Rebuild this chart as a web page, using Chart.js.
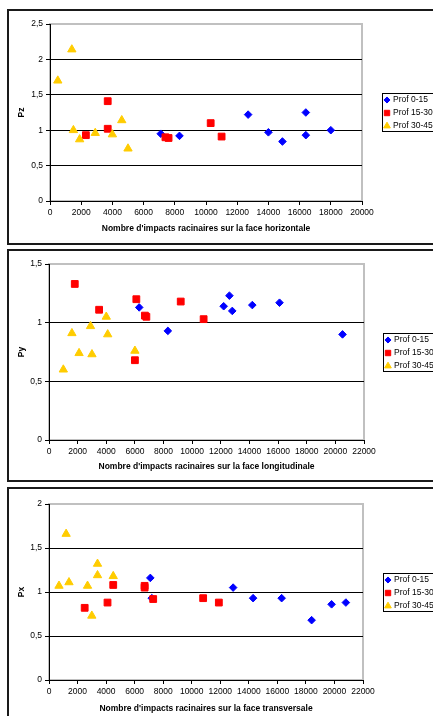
<!DOCTYPE html>
<html>
<head>
<meta charset="utf-8">
<script src="https://cdn.jsdelivr.net/npm/chart.js@4.4.1/dist/chart.umd.min.js"></script>
<style>
body { margin: 0; width: 433px; height: 716px; overflow: hidden; background: #fff; position: relative; }
.box { position: absolute; left: 7px; width: 500px; border: 2px solid #1a1a1a; box-sizing: border-box; }
canvas { position: absolute; left: 0; }
</style>
</head>
<body>
<div class="box" style="top:9px;height:236px"></div>
<div class="box" style="top:249px;height:233px"></div>
<div class="box" style="top:487px;height:300px"></div>
<canvas id="chartZ" width="433" height="233" style="top:10px"></canvas>
<canvas id="chartY" width="433" height="231" style="top:250px"></canvas>
<canvas id="chartX" width="433" height="228" style="top:488px"></canvas>
<script>
const seriesNames = ['Prof 0-15', 'Prof 15-30', 'Prof 30-45'];

// face horizontale -> Pz
const horizX_015 = [7100, 8300, 12700, 14000, 14900, 16400, 16400, 18000];
const horizPz_015 = [0.95, 0.92, 1.22, 0.97, 0.84, 1.25, 0.93, 1.00];
const horizX_1530 = [2300, 3700, 3700, 7400, 7600, 10300, 11000];
const horizPz_1530 = [0.93, 1.41, 1.02, 0.90, 0.89, 1.10, 0.91];
const horizX_3045 = [500, 1400, 1500, 1900, 2900, 4000, 4600, 5000];
const horizPz_3045 = [1.70, 2.14, 1.00, 0.87, 0.96, 0.94, 1.14, 0.74];

// face longitudinale -> Py
const longX_015 = [6300, 8300, 12200, 12600, 12800, 14200, 16100, 20500];
const longPy_015 = [1.13, 0.93, 1.14, 1.23, 1.10, 1.15, 1.17, 0.90];
const longX_1530 = [1800, 3500, 6100, 6700, 6800, 6000, 9200, 10800];
const longPy_1530 = [1.33, 1.11, 1.20, 1.06, 1.05, 0.68, 1.18, 1.03];
const longX_3045 = [1000, 1600, 2100, 2900, 3000, 4000, 4100, 6000];
const longPy_3045 = [0.60, 0.91, 0.74, 0.97, 0.73, 1.05, 0.90, 0.76];

// face transversale -> Px
const transX_015 = [7100, 7200, 12900, 14300, 16300, 18400, 19800, 20800];
const transPx_015 = [1.16, 0.93, 1.05, 0.93, 0.93, 0.68, 0.86, 0.88];
const transX_1530 = [2500, 4100, 4500, 6700, 6700, 7300, 10800, 11900];
const transPx_1530 = [0.82, 0.88, 1.08, 1.07, 1.05, 0.92, 0.93, 0.88];
const transX_3045 = [700, 1200, 1400, 2700, 3000, 3400, 3400, 4500];
const transPx_3045 = [1.07, 1.66, 1.11, 1.07, 0.73, 1.32, 1.19, 1.18];

const colors = ['#0000ff', '#ff0000', '#ffcc00'];
const styles = ['rectRot', 'rect', 'triangle'];
const radii = [3.8, 4.8, 4.8];

Chart.defaults.font.family = '"Liberation Sans", Arial, sans-serif';
Chart.defaults.font.size = 8.5;
Chart.defaults.color = '#000';

function pts(xs, ys) {
  return xs.map((x, i) => ({ x: x, y: ys[i] }));
}

const frameAndLegend = {
  id: 'frameAndLegend',
  beforeDraw(chart) {
    const { ctx, chartArea: a } = chart;
    ctx.save();
    ctx.strokeStyle = '#c0c0c0';
    ctx.lineWidth = 2;
    ctx.strokeRect(a.left, a.top, a.right - a.left, a.bottom - a.top);
    ctx.restore();
  },
  afterDraw(chart, args, opts) {
    const ctx = chart.ctx;
    const x = opts.x, y = opts.y;
    ctx.save();
    ctx.fillStyle = '#fff';
    ctx.fillRect(x, y, 80, 39);
    ctx.strokeStyle = '#000';
    ctx.lineWidth = 1;
    ctx.strokeRect(x + 0.5, y + 0.5, 80, 38);
    chart.data.datasets.forEach((ds, i) => {
      const cy = y + 7 + i * 13;
      ctx.fillStyle = ds.backgroundColor;
      ctx.strokeStyle = ds.borderColor;
      ctx.lineWidth = 1;
      Chart.helpers.drawPoint(ctx, { pointStyle: ds.pointStyle, radius: ds.pointRadius * 0.8, borderWidth: 1, rotation: 0 }, x + 5, cy);
      ctx.fillStyle = '#000';
      ctx.font = '8.5px "Liberation Sans", Arial, sans-serif';
      ctx.textBaseline = 'middle';
      ctx.fillText(ds.label, x + 11, cy);
    });
    ctx.restore();
  }
};

function makeChart(id, g) {
  const datasets = g.series.map((s, i) => ({
    label: seriesNames[i],
    data: pts(s[0], s[1]),
    pointStyle: styles[i],
    pointRadius: radii[i],
    pointHoverRadius: radii[i],
    backgroundColor: colors[i],
    borderColor: colors[i],
    borderWidth: 1,
    order: 3 - i
  }));
  return new Chart(document.getElementById(id), {
    type: 'scatter',
    data: { datasets: datasets },
    options: {
      responsive: false,
      animation: false,
      devicePixelRatio: 1,
      layout: { padding: { top: g.padTop, right: 433 - g.plotRight, left: 0, bottom: 0 } },
      plugins: {
        legend: { display: false },
        tooltip: { enabled: false },
        frameAndLegend: { x: g.legendX, y: g.legendY }
      },
      scales: {
        x: {
          min: 0, max: g.xMax,
          afterFit: s => { s.height = g.xAxisH; },
          border: { color: '#000', width: 1 },
          grid: { drawOnChartArea: false, tickLength: 4, tickColor: '#000' },
          ticks: { stepSize: 2000, autoSkip: false, maxRotation: 0, padding: 3, callback: v => String(v) },
          title: { display: true, text: g.xTitle, font: { weight: 'bold' }, padding: { top: 0, bottom: g.xTitlePad } }
        },
        y: {
          min: 0, max: g.yMax,
          afterFit: s => { s.width = g.plotLeft; },
          border: { color: '#000', width: 1 },
          grid: {
            color: c => (c.tick && c.tick.value === g.yMax) ? 'rgba(0,0,0,0)' : '#000',
            tickLength: 4, tickColor: '#000'
          },
          ticks: { stepSize: 0.5, padding: 3, callback: v => String(v).replace('.', ',') },
          title: { display: true, text: g.yTitle, font: { weight: 'bold' }, padding: { top: 17, bottom: 0 } }
        }
      }
    },
    plugins: [frameAndLegend]
  });
}

makeChart('chartZ', {
  series: [[horizX_015, horizPz_015], [horizX_1530, horizPz_1530], [horizX_3045, horizPz_3045]],
  xMax: 20000, yMax: 2.5,
  plotLeft: 50, plotRight: 362, padTop: 14, xAxisH: 42, xTitlePad: 9,
  xTitle: "Nombre d'impacts racinaires sur la face horizontale", yTitle: 'Pz',
  legendX: 382, legendY: 83
});

makeChart('chartY', {
  series: [[longX_015, longPy_015], [longX_1530, longPy_1530], [longX_3045, longPy_3045]],
  xMax: 22000, yMax: 1.5,
  plotLeft: 49, plotRight: 364, padTop: 14, xAxisH: 41, xTitlePad: 9,
  xTitle: "Nombre d'impacts racinaires sur la face longitudinale", yTitle: 'Py',
  legendX: 383, legendY: 83
});

makeChart('chartX', {
  series: [[transX_015, transPx_015], [transX_1530, transPx_1530], [transX_3045, transPx_3045]],
  xMax: 22000, yMax: 2,
  plotLeft: 49, plotRight: 363, padTop: 16, xAxisH: 36, xTitlePad: 2,
  xTitle: "Nombre d'impacts racinaires sur la face transversale", yTitle: 'Px',
  legendX: 383, legendY: 85
});
</script>
</body>
</html>
